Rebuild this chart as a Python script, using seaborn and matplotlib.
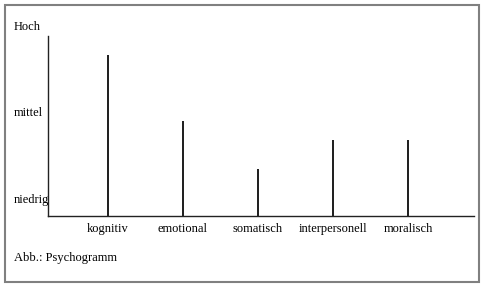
import matplotlib
matplotlib.use("Agg")
import matplotlib.pyplot as plt
import matplotlib.transforms as mtransforms
from matplotlib.patches import Rectangle
import seaborn as sns
import pandas as pd

categories = ["kognitiv", "emotional", "somatisch", "interpersonell", "moralisch"]
values = [2.68, 1.91, 1.36, 1.69, 1.69]
level_labels = ["niedrig", "mittel", "Hoch"]
level_values = [1, 2, 3]
caption = "Abb.: Psychogramm"

sns.set_theme(style="white")
plt.rcParams["font.family"] = ["Liberation Serif", "DejaVu Serif"]

W, H = 484, 288
fig = plt.figure(figsize=(W / 100, H / 100), dpi=100)
ax = fig.add_axes([48 / W, 1 - 216 / H, (474 - 48) / W, (216 - 36) / H])

df = pd.DataFrame({"cat": categories, "val": values})
sns.barplot(data=df, x="cat", y="val", ax=ax, color="#222222", width=0.016,
            linewidth=0, saturation=1)

ax.set_xlim(-0.8, 4.88)
ax.set_ylim(1 - 16 / 86.5, 1 + (200 - 36) / 86.5)
ax.set_xlabel("")
ax.set_ylabel("")
ax.set_yticks([])
ax.set_xticks(range(len(categories)))
ax.set_xticklabels(categories, fontsize=9)
ax.tick_params(axis="x", length=0, pad=5, colors="black")
for s in ["top", "right"]:
    ax.spines[s].set_visible(False)
for s in ["left", "bottom"]:
    ax.spines[s].set_color("#222222")
    ax.spines[s].set_linewidth(1.0)

trans = mtransforms.blended_transform_factory(fig.transFigure, ax.transData)
for lab, v in zip(level_labels, level_values):
    ax.text(14 / W, v, lab, transform=trans, fontsize=9, ha="left", va="center",
            clip_on=False, color="black")

fig.text(14 / W, 1 - 258 / H, caption, fontsize=9, ha="left", va="center", color="black")

fig.patches.append(Rectangle((5 / W, 1 - 282 / H), (479 - 5) / W, (282 - 5) / H,
                             transform=fig.transFigure, fill=False,
                             edgecolor="#808080", linewidth=1.5))

fig.savefig("out.png", dpi=100, facecolor="white")
